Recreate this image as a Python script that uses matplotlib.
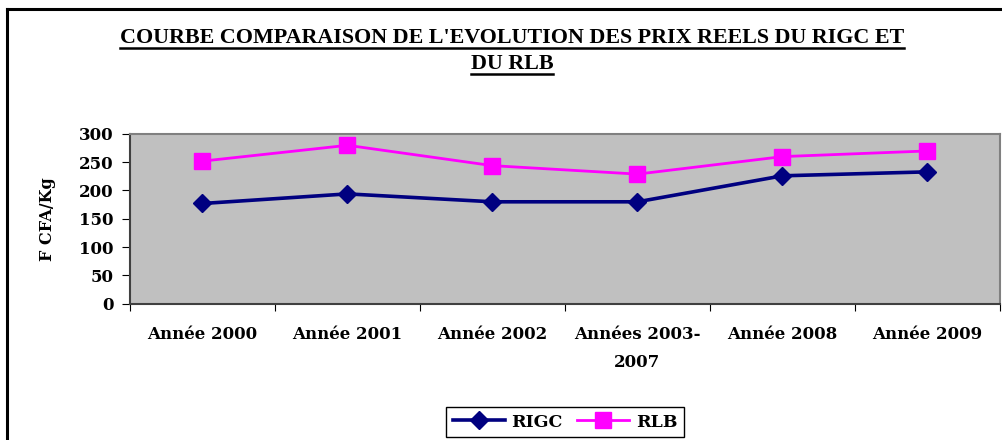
import matplotlib
matplotlib.use("Agg")
import matplotlib.pyplot as plt
from matplotlib.lines import Line2D

categories = ["Année 2000", "Année 2001", "Année 2002", "Années 2003-\n2007", "Année 2008", "Année 2009"]
rigc = [177, 194, 180, 180, 226, 233]
rlb = [252, 280, 244, 229, 260, 270]
yticks = [0, 50, 100, 150, 200, 250, 300]

title_lines = ["COURBE COMPARAISON DE L'EVOLUTION DES PRIX REELS DU RIGC ET", "DU RLB"]

plt.rcParams["font.family"] = ["DejaVu Serif"]
plt.rcParams["font.weight"] = "bold"
title_font = ["Liberation Serif", "DejaVu Serif"]

W, H = 1003, 440
fig = plt.figure(figsize=(W / 100, H / 100), dpi=100)

# outer chart frame (only top and left visible)
fig.add_artist(Line2D([7 / W, 7 / W], [0, 1 - 9 / H], color="black", lw=2.2))
fig.add_artist(Line2D([7 / W, 1], [1 - 9 / H, 1 - 9 / H], color="black", lw=2.2))

ax = fig.add_axes([130 / W, 1 - 303.5 / H, (1000 - 130) / W, (303.5 - 134) / H])
ax.set_facecolor("#C0C0C0")
for s in ax.spines.values():
  s.set_color("#808080")
  s.set_linewidth(1.5)
ax.spines["bottom"].set_color("#404040")
ax.spines["left"].set_color("#404040")

x = list(range(len(categories)))
ax.plot(x, rigc, color="#000080", lw=2.6, marker="D", markersize=9, label="RIGC")
ax.plot(x, rlb, color="#FF00FF", lw=2.0, marker="s", markersize=11, label="RLB")

ax.set_xlim(-0.5, len(categories) - 0.5)
ax.set_ylim(0, 300)
ax.set_yticks(yticks)
ax.set_yticklabels([str(v) for v in yticks], fontsize=12, fontweight="bold")
ax.set_xticks([i - 0.5 for i in range(len(categories) + 1)])
ax.set_xticklabels([])
ax.set_xticks(x, minor=True)
ax.set_xticklabels(categories, minor=True, fontsize=12, fontweight="bold", linespacing=1.9, va="top")
ax.tick_params(axis="x", which="minor", length=0, pad=16)
ax.tick_params(axis="x", which="major", length=5, direction="out", color="black")
ax.tick_params(axis="y", length=6, direction="out", color="black", pad=6)
ax.set_ylabel("F CFA/Kg", fontsize=11.5, fontweight="bold", labelpad=16)

# title with underline
ys = [1 - 38 / H, 1 - 64 / H]
texts = []
for line, y in zip(title_lines, ys):
  texts.append(fig.text(512 / W, y, line, ha="center", va="center", fontsize=15.8,
                        fontweight="bold", family=title_font))
fig.canvas.draw()
r = fig.canvas.get_renderer()
for t in texts:
  bb = t.get_window_extent(renderer=r)
  yl = (bb.y0 - 0.5) / H
  fig.add_artist(Line2D([bb.x0 / W, bb.x1 / W], [yl, yl], color="black", lw=1.8))

leg = fig.legend(loc="center", bbox_to_anchor=(565 / W, 1 - 422 / H), ncol=2, fancybox=False,
                 edgecolor="black", framealpha=1, prop={"size": 12.5, "weight": "bold"},
                 handlelength=3.0, columnspacing=0.8, handletextpad=0.4, borderpad=0.4)
leg.get_frame().set_linewidth(1.0)

fig.savefig("out.png", dpi=100)
